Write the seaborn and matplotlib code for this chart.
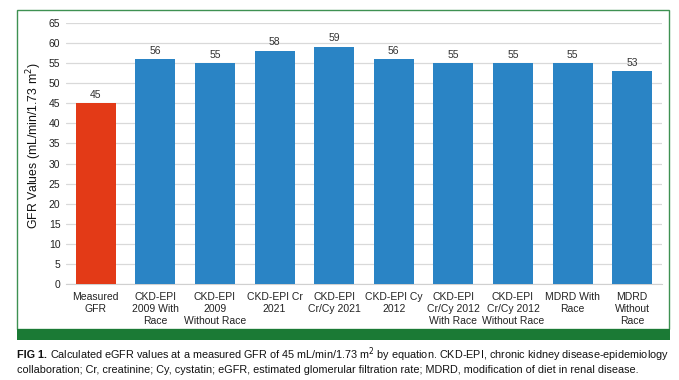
import numpy as np
import pandas as pd
import matplotlib
matplotlib.use("Agg")
import matplotlib.pyplot as plt
import seaborn as sns
from matplotlib.patches import Rectangle

# Chart data
categories = [
    "Measured\nGFR", "CKD-EPI\n2009 With\nRace", "CKD-EPI\n2009\nWithout Race",
    "CKD-EPI Cr\n2021", "CKD-EPI\nCr/Cy 2021", "CKD-EPI Cy\n2012",
    "CKD-EPI\nCr/Cy 2012\nWith Race", "CKD-EPI\nCr/Cy 2012\nWithout Race",
    "MDRD With\nRace", "MDRD\nWithout\nRace",
]
gfr_values = [45, 56, 55, 58, 59, 56, 55, 55, 55, 53]
bar_colors = ["#E33A17"] + ["#2A84C5"] * 9
y_ticks = list(range(0, 70, 5))

caption_bold = "FIG 1."
caption_line1 = (" Calculated eGFR values at a measured GFR of 45 mL/min/1.73 m$^2$ by equation. "
                 "CKD-EPI, chronic kidney disease-epidemiology")
caption_line2 = ("collaboration; Cr, creatinine; Cy, cystatin; eGFR, estimated glomerular "
                 "filtration rate; MDRD, modification of diet in renal disease.")

sns.set_style("white")
plt.rcParams['font.family'] = ['Liberation Sans', 'DejaVu Sans']

W, H = 679, 380
fig = plt.figure(figsize=(W / 100, H / 100), dpi=100)

# axes placement in pixels
left, right, top, bottom = 66, 662, 23, 284
ax = fig.add_axes([left / W, 1 - bottom / H, (right - left) / W, (bottom - top) / H])

df = pd.DataFrame({"method": categories, "gfr": gfr_values})
sns.barplot(data=df, x="method", y="gfr", hue="method", palette=bar_colors,
            legend=False, width=0.67, saturation=1, linewidth=0, ax=ax, zorder=3)

for i, v in enumerate(gfr_values):
    ax.text(i, v + 0.9, str(v), ha="center", va="bottom", fontsize=7.5, color="#333333")

ax.set_ylim(0, 65)
ax.set_xlim(-0.5, len(categories) - 0.5)
ax.set_yticks(y_ticks)
ax.yaxis.grid(True, color="#D9D9D9", linewidth=0.9, zorder=0)
ax.tick_params(axis="both", length=0, labelsize=7.5, colors="#222222")
ax.tick_params(axis="y", pad=4)
ax.tick_params(axis="x", pad=6)
for lbl in ax.get_xticklabels():
    lbl.set_linespacing(1.25)
for s in ["top", "right", "left"]:
    ax.spines[s].set_visible(False)
ax.spines["bottom"].set_color("#D0D0D0")
ax.set_xlabel("")
ax.set_ylabel("GFR Values (mL/min/1.73 m$^2$)", fontsize=8.8, color="#111111")
ax.yaxis.set_label_coords((44 - left) / (right - left), 0.53)

# green frame and band
fig.patches.append(Rectangle((17 / W, 1 - 329 / H), (669 - 17) / W, (329 - 10) / H,
                             transform=fig.transFigure, fill=False,
                             edgecolor="#3E9152", linewidth=1.0))
fig.patches.append(Rectangle((17 / W, 1 - 340 / H), (670 - 17) / W, 11 / H,
                             transform=fig.transFigure, facecolor="#1B7A35",
                             edgecolor="none"))

# caption
fig.canvas.draw()
renderer = fig.canvas.get_renderer()
t = fig.text(17 / W, 1 - 355 / H, caption_bold, fontsize=7.83, fontweight="bold",
             va="center", ha="left", color="#111111")
bb = t.get_window_extent(renderer)
fig.text(bb.x1 / W, 1 - 355 / H, caption_line1, fontsize=7.83, va="center", ha="left",
         color="#111111")
fig.text(17 / W, 1 - 370 / H, caption_line2, fontsize=7.83, va="center", ha="left",
         color="#111111")

fig.savefig("out.png", dpi=100)
